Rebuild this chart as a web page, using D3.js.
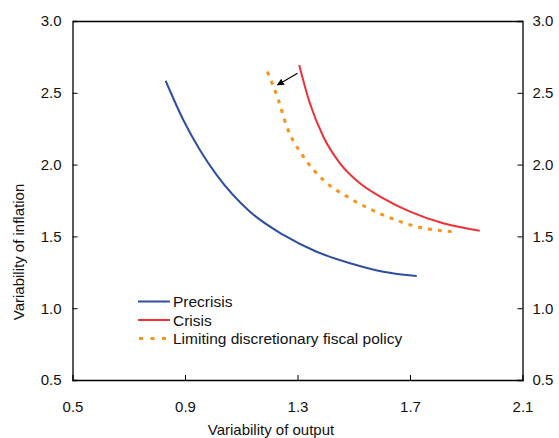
<!DOCTYPE html>
<html><head><meta charset="utf-8">
<script src="https://cdn.jsdelivr.net/npm/d3@7"></script>
<style>body{margin:0;background:#fff}svg{display:block;font-family:"Liberation Sans",Arial,sans-serif}</style>
</head><body><svg id="c" width="559" height="438"></svg>
<script>
const xTicks = [0.5, 0.9, 1.3, 1.7, 2.1];
const yTicks = [0.5, 1.0, 1.5, 2.0, 2.5, 3.0];
const precrisisX = [0.831, 0.894, 0.953, 1.013, 1.131, 1.250, 1.368, 1.487, 1.605, 1.724];
const precrisisY = [2.584, 2.311, 2.102, 1.927, 1.672, 1.510, 1.393, 1.313, 1.254, 1.224];
const crisisX = [1.306, 1.344, 1.392, 1.451, 1.522, 1.605, 1.700, 1.818, 1.948];
const crisisY = [2.694, 2.427, 2.194, 2.009, 1.870, 1.765, 1.672, 1.591, 1.540];
const limitX = [1.193, 1.232, 1.262, 1.321, 1.392, 1.487, 1.605, 1.724, 1.850];
const limitY = [2.647, 2.450, 2.264, 2.055, 1.893, 1.765, 1.649, 1.568, 1.533];
const arrowFrom = [1.300, 2.636];
const arrowTo = [1.229, 2.555];
const seriesNames = ["Precrisis", "Crisis", "Limiting discretionary fiscal policy"];
const seriesColors = ["#2e4ea3", "#ee3136", "#f7941d"];

const svg = d3.select("#c");
const L = 72.5, R = 522.5, T = 21, B = 380;
const x = d3.scaleLinear().domain([0.5, 2.1]).range([L, R]);
const y = d3.scaleLinear().domain([0.5, 3.0]).range([B, T]);
const FS = 15;

const fmt = d3.format(".1f");
const gB = svg.append("g").attr("transform", `translate(0,${B})`)
  .call(d3.axisBottom(x).tickValues(xTicks).tickFormat(fmt).tickSize(-5).tickPadding(21));
const gT = svg.append("g").attr("transform", `translate(0,${T})`)
  .call(d3.axisTop(x).tickValues([]).tickSize(0));
const gL = svg.append("g").attr("transform", `translate(${L},0)`)
  .call(d3.axisLeft(y).tickValues(yTicks).tickFormat(fmt).tickSize(-5).tickPadding(11));
const gR = svg.append("g").attr("transform", `translate(${R},0)`)
  .call(d3.axisRight(y).tickValues(yTicks).tickFormat(fmt).tickSize(-5).tickPadding(10));
[gB, gT, gL, gR].forEach(g => {
  g.selectAll("path.domain").attr("stroke", "#000").attr("stroke-width", 1.3);
  g.selectAll(".tick line").attr("stroke", "#000");
  g.selectAll("text").attr("font-size", FS).attr("fill", "#111").attr("font-family", "Liberation Sans, Arial, sans-serif");
});
gB.selectAll(".tick").filter(d => d === 0.5 || d === 2.1).select("line").remove();
gL.selectAll(".tick").filter(d => d === 0.5 || d === 3.0).select("line").remove();
gR.selectAll(".tick").filter(d => d === 0.5 || d === 3.0).select("line").remove();

const line = d3.line().x(d => x(d[0])).y(d => y(d[1])).curve(d3.curveMonotoneX);
const series = [
  {xs: precrisisX, ys: precrisisY},
  {xs: crisisX, ys: crisisY},
  {xs: limitX, ys: limitY}
];
series.forEach((s, i) => {
  const pts = s.xs.map((v, k) => [v, s.ys[k]]);
  const p = svg.append("path").attr("d", line(pts)).attr("fill", "none")
    .attr("stroke", seriesColors[i]).attr("stroke-width", i === 2 ? 3 : 2);
  if (i === 2) p.attr("stroke-dasharray", "4 6");
});

// arrow
svg.append("defs").append("marker").attr("id", "ah").attr("viewBox", "0 0 10 10")
  .attr("refX", 9).attr("refY", 5).attr("markerWidth", 7).attr("markerHeight", 7)
  .attr("markerUnits", "userSpaceOnUse").attr("orient", "auto")
  .append("path").attr("d", "M0,0 L10,5 L0,10 z").attr("fill", "#000");
svg.append("line").attr("x1", x(arrowFrom[0])).attr("y1", y(arrowFrom[1]))
  .attr("x2", x(arrowTo[0])).attr("y2", y(arrowTo[1]))
  .attr("stroke", "#000").attr("stroke-width", 1.2).attr("marker-end", "url(#ah)");

// legend
const lg = svg.append("g");
seriesNames.forEach((n, i) => {
  const yy = 301.5 + i * 18.5;
  const ln = lg.append("line").attr("x1", 138).attr("x2", 170).attr("y1", yy).attr("y2", yy)
    .attr("stroke", seriesColors[i]).attr("stroke-width", i === 2 ? 3 : 2);
  if (i === 2) ln.attr("stroke-dasharray", "4 7.5").attr("x1", 139);
  lg.append("text").attr("x", 173).attr("y", yy + 5.5).attr("font-size", 15.5).attr("fill", "#111").text(n);
});

svg.append("text").attr("x", 271).attr("y", 435).attr("text-anchor", "middle")
  .attr("font-size", FS).attr("fill", "#111").text("Variability of output");
svg.append("text").attr("transform", "translate(24,252) rotate(-90)").attr("text-anchor", "middle")
  .attr("font-size", FS).attr("fill", "#111").text("Variability of inflation");
</script></body></html>
